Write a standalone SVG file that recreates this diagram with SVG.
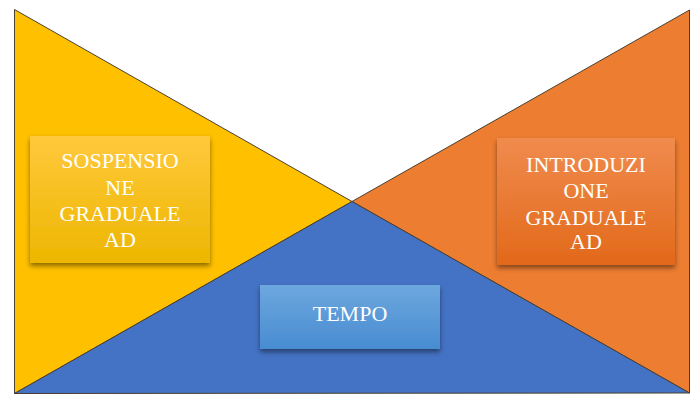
<svg xmlns="http://www.w3.org/2000/svg" width="698" height="399" viewBox="0 0 698 399">
  <defs>
    <linearGradient id="gY" x1="0" y1="0" x2="0" y2="1">
      <stop offset="0" stop-color="#FFC93C"/>
      <stop offset="1" stop-color="#EDB600"/>
    </linearGradient>
    <linearGradient id="gO" x1="0" y1="0" x2="0" y2="1">
      <stop offset="0" stop-color="#F08B4E"/>
      <stop offset="1" stop-color="#E2691A"/>
    </linearGradient>
    <linearGradient id="gB" x1="0" y1="0" x2="0" y2="1">
      <stop offset="0" stop-color="#6DA7DE"/>
      <stop offset="1" stop-color="#488CD2"/>
    </linearGradient>
    <filter id="sh" x="-20%" y="-20%" width="140%" height="150%">
      <feDropShadow dx="0" dy="3" stdDeviation="2.5" flood-color="#000" flood-opacity="0.45"/>
    </filter>
  </defs>
  <style>
    .tri { stroke: #4a4030; stroke-width: 1; stroke-linejoin: miter; }
    .lbl { font-family: "Liberation Serif", "Times New Roman", serif; font-size: 22px; fill: #ffffff; text-anchor: middle; }
  </style>
  <rect width="698" height="399" fill="#ffffff"/>
  <g id="shapes">
    <polygon class="tri" points="14.5,9.5 14.5,393.5 352,201.5" fill="#FFC000"/>
    <polygon class="tri" points="689.5,10 689.5,393 352,201.5" fill="#ED7D31"/>
    <polygon class="tri" points="14.5,393.5 352,201.5 689.5,393" fill="#4472C4" stroke="#1f2f55"/>
  </g>
  <g id="node-sospensione">
    <rect x="30" y="136" width="180" height="127" fill="url(#gY)" filter="url(#sh)"/>
    <text class="lbl" x="120" y="168">SOSPENSIO</text>
    <text class="lbl" x="120" y="194.5">NE</text>
    <text class="lbl" x="120" y="221">GRADUALE</text>
    <text class="lbl" x="120" y="247">AD</text>
  </g>
  <g id="node-introduzione">
    <rect x="497" y="138" width="178" height="127" fill="url(#gO)" filter="url(#sh)"/>
    <text class="lbl" x="586" y="171.5">INTRODUZI</text>
    <text class="lbl" x="586" y="198">ONE</text>
    <text class="lbl" x="586" y="224.5">GRADUALE</text>
    <text class="lbl" x="586" y="248.5">AD</text>
  </g>
  <g id="node-tempo">
    <rect x="260" y="285" width="180" height="64" fill="url(#gB)" filter="url(#sh)"/>
    <text class="lbl" x="350" y="321">TEMPO</text>
  </g>
</svg>
